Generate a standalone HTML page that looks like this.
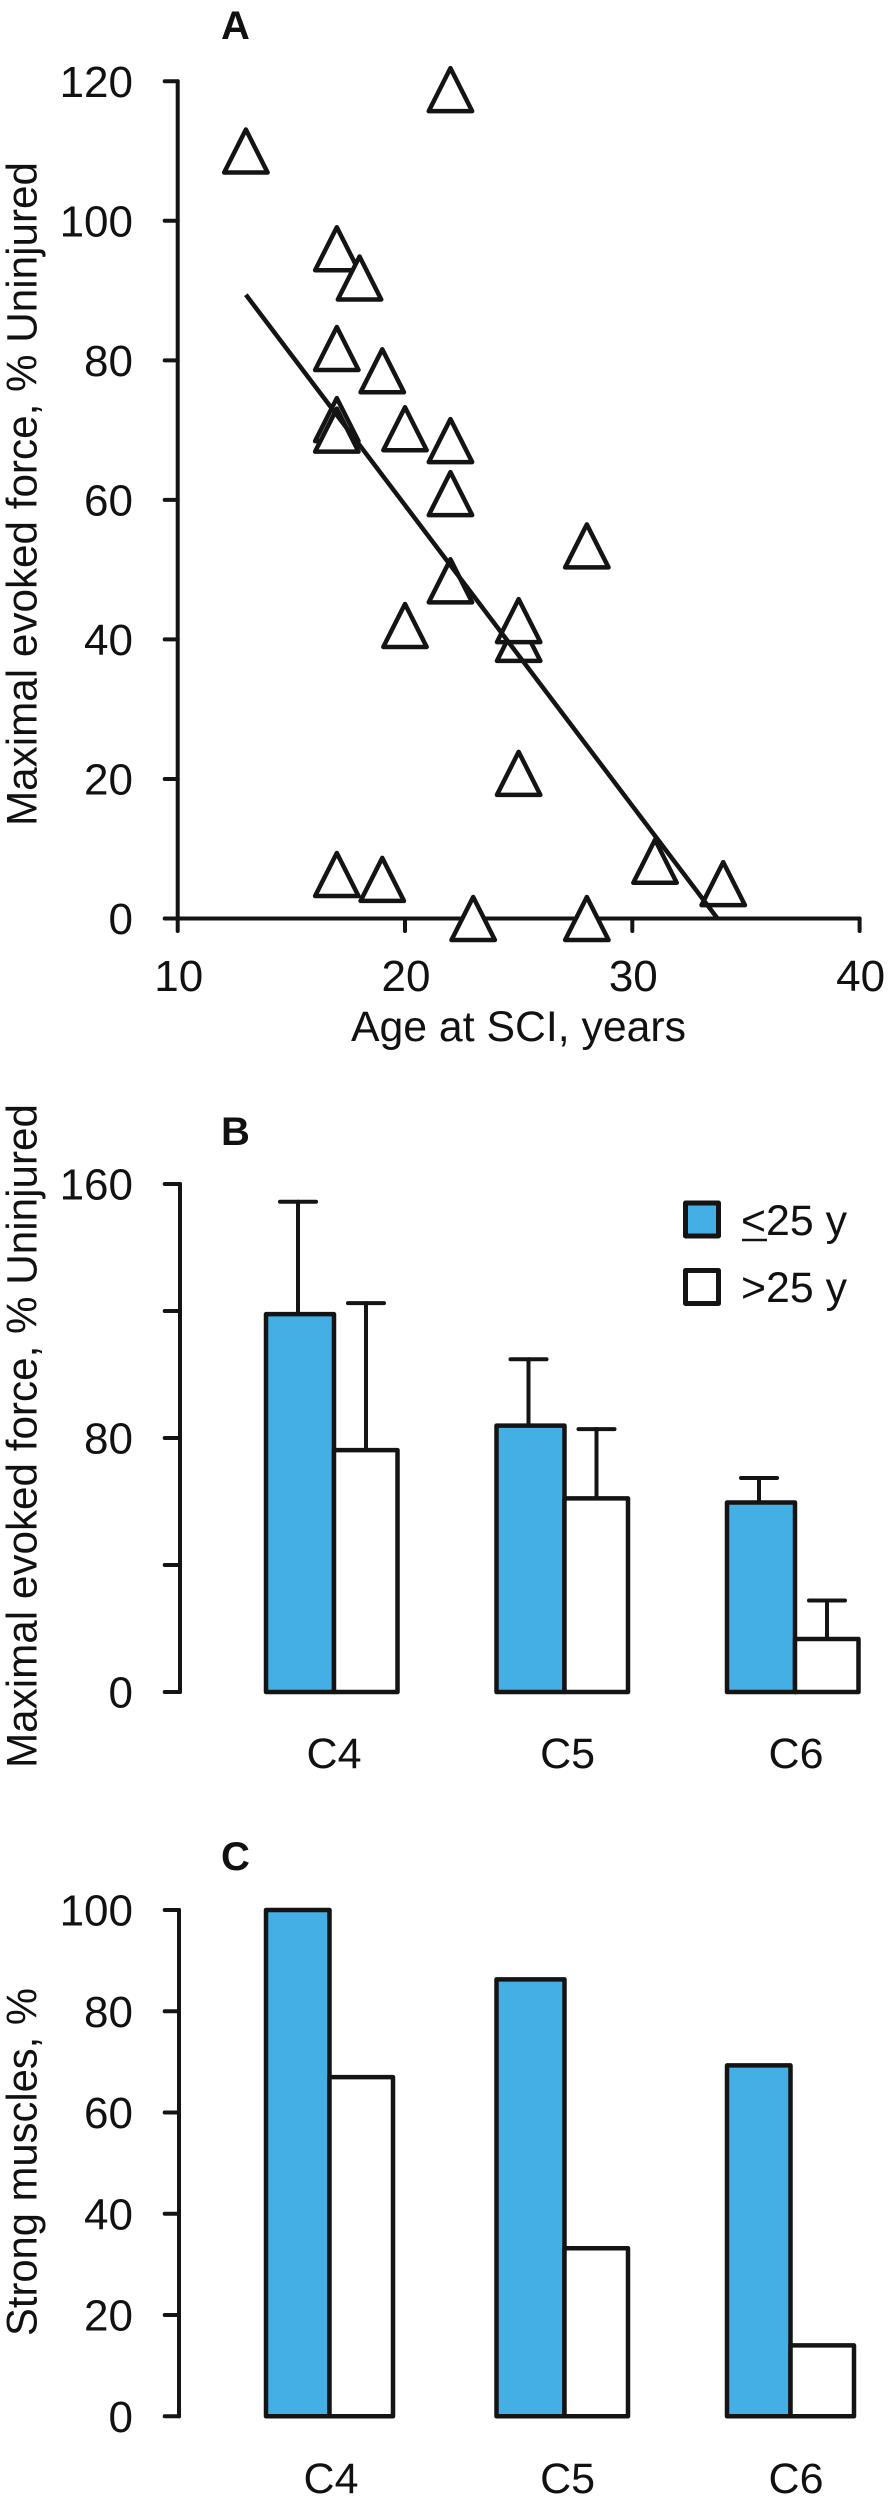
<!DOCTYPE html>
<html lang="en">
<head>
<meta charset="utf-8">
<title>Maximal evoked force and strong muscles by age at SCI</title>
<style>
html,body{margin:0;padding:0;background:#fff;width:888px;height:2500px;overflow:hidden}
svg{display:block}
text{font-family:"Liberation Sans",Arial,sans-serif;fill:#111}
</style>
</head>
<body>
<svg id="fig" xmlns="http://www.w3.org/2000/svg" width="888" height="2500" viewBox="0 0 888 2500"></svg>
<script>
// ---- Panel A data ----
const scatterAge = [13,22,17,18,17,19,17,17,20,22,22,28,22,20,25,25,25,17,19,31,34,23,28];
const scatterForce = [110,118.8,96,91.8,81.7,78.5,71.5,70,70.2,68.5,60.9,53.4,48.4,42,40,42.7,20.8,6.3,5.6,8.2,5,0,0];
const fitAge = [13,33.75];
const fitForce = [89.4,0];
const xTicksA = [10,20,30,40];
const yTicksA = [0,20,40,60,80,100,120];

// ---- Panel B data ----
const categories = ["C4","C5","C6"];
const forceYoung = [119,83.9,59.7];
const forceOld = [76.2,61,16.7];
const errYoung = [154.4,104.8,67.4];
const errOld = [122.5,82.8,28.8];
const yTicksB = [0,40,80,120,160];
const yLabelsB = ["0","","80","","160"];

// ---- Panel C data ----
const strongYoung = [100,86.3,69.3];
const strongOld = [67,33.2,14];
const yTicksC = [0,20,40,60,80,100];

const BLUE = "#44afe4", INK = "#141414";
const svg = document.getElementById("fig");
function make(tag, attrs, txt, parent){
  const el = document.createElementNS("http://www.w3.org/2000/svg", tag);
  for (const k in attrs) el.setAttribute(k, attrs[k]);
  if (txt !== undefined) el.textContent = txt;
  (parent || svg).appendChild(el);
  return el;
}
function line(x1,y1,x2,y2,w){
  return make("line",{x1,y1,x2,y2,stroke:INK,"stroke-width":w||4,"stroke-linecap":"round"});
}
const xA = v => 177.7 + (v-10)*22.73;
const yA = v => 918.5 - v*6.977;
const yB = v => 1692 - v*3.175;
const yC = v => 2416.3 - v*5.063;

// Panel letters and axis titles
const letterA = make("text",{x:221,y:39,"font-size":40,"font-weight":"bold"},"A");


const letterB = make("text",{x:221,y:1145,"font-size":40,"font-weight":"bold"},"B");


const letterC = make("text",{x:221,y:1870,"font-size":40,"font-weight":"bold"},"C");



const titleA = make("text",{x:0,y:0,"font-size":43,"text-anchor":"middle",transform:"translate(36.5,494) rotate(-90)",textLength:664,lengthAdjust:"spacingAndGlyphs"},"Maximal evoked force, % Uninjured");


const titleXA = make("text",{x:518.5,y:1041,"font-size":43,"text-anchor":"middle",textLength:335,lengthAdjust:"spacingAndGlyphs"},"Age at SCI, years");


const titleB = make("text",{x:0,y:0,"font-size":43,"text-anchor":"middle",transform:"translate(36.5,1436) rotate(-90)",textLength:664,lengthAdjust:"spacingAndGlyphs"},"Maximal evoked force, % Uninjured");


const titleC = make("text",{x:0,y:0,"font-size":43,"text-anchor":"middle",transform:"translate(36.5,2162) rotate(-90)",textLength:348,lengthAdjust:"spacingAndGlyphs"},"Strong muscles, %");



// Panel A axes
const axisYA = line(xA(10),yA(120),xA(10),yA(0));


const axisXA = line(xA(10),yA(0),xA(40),yA(0));


yTicksA.forEach(t=>{
  const tick = line(xA(10)-13,yA(t),xA(10),yA(t));
  
  
  const lab = make("text",{x:133,y:yA(t)+15.5,"font-size":44,"text-anchor":"end"},String(t));
  
  
});
xTicksA.forEach(t=>{
  const tick = line(xA(t),yA(0),xA(t),yA(0)+12.5);
  
  
  const lab = make("text",{x:xA(t)+1,y:991,"font-size":44,"text-anchor":"middle"},String(t));
  
  
});

// Panel A scatter points
scatterAge.forEach((a,i)=>{
  const cx = xA(a), cy = yA(scatterForce[i]);
  const tri = make("path",{d:`M${cx} ${cy-21.5}L${cx+21.7} ${cy+21.5}L${cx-21.7} ${cy+21.5}Z`,fill:"#fff",stroke:INK,"stroke-width":4.5,"stroke-linejoin":"round"});
  
  
});
const fit = make("line",{x1:xA(fitAge[0]),y1:yA(fitForce[0]),x2:xA(fitAge[1]),y2:yA(fitForce[1]),stroke:INK,"stroke-width":4.5});



// Bar geometry: band start plus per-panel widths
const bandLeft = i => 266 + 230.5*i;
function bar(x,w,top,base,fill){
  return make("rect",{x,y:top,width:w,height:base-top,fill,stroke:INK,"stroke-width":4.5,"stroke-linejoin":"round"});
}
const catXB = i => [334,567.6,796][i];
const catXC = i => [331,567.6,796][i];

// Panel B axis
const axisYB = line(180,yB(160),180,yB(0));


yTicksB.forEach((t,i)=>{
  const tick = line(164.7,yB(t),180,yB(t));
  
  
  if (yLabelsB[i]) {
    const lab = make("text",{x:133,y:yB(t)+15.5,"font-size":44,"text-anchor":"end"},yLabelsB[i]);
    
    
  }
});
// Panel B bars + error bars
categories.forEach((c,i)=>{
  const l = bandLeft(i), w1 = 68, w2 = 63.5;
  const ex1 = l + 32, ex2 = l + w1 + 32;
  const e1 = line(ex1,yB(errYoung[i]),ex1,yB(forceYoung[i]));
  
  
  const c1 = line(ex1-18,yB(errYoung[i]),ex1+18,yB(errYoung[i]));
  
  
  const e2 = line(ex2,yB(errOld[i]),ex2,yB(forceOld[i]));
  
  
  const c2 = line(ex2-18,yB(errOld[i]),ex2+18,yB(errOld[i]));
  
  
  const b1 = bar(l,w1,yB(forceYoung[i]),yB(0),BLUE);
  
  
  const b2 = bar(l+w1,w2,yB(forceOld[i]),yB(0),"#fff");
  
  
  const lab = make("text",{x:catXB(i),y:1768,"font-size":43,"text-anchor":"middle"},c);
  
  
});

// Legend
const swY = make("rect",{x:685.5,y:1203,width:33,height:33,fill:BLUE,stroke:INK,"stroke-width":5,"stroke-linejoin":"round"});


const swO = make("rect",{x:685.5,y:1270.5,width:33,height:33,fill:"#fff",stroke:INK,"stroke-width":5,"stroke-linejoin":"round"});


const legY = make("text",{x:741,y:1235,"font-size":43,textLength:106,lengthAdjust:"spacingAndGlyphs"},"<25 y");


const legU = line(742,1240,767,1240,2.5);
legU.setAttribute("stroke-linecap","butt");


const legO = make("text",{x:741,y:1302,"font-size":43,textLength:106,lengthAdjust:"spacingAndGlyphs"},">25 y");



// Panel C axis
const axisYC = line(179,yC(100),179,yC(0));


yTicksC.forEach(t=>{
  const tick = line(164.7,yC(t),179,yC(t));
  
  
  const lab = make("text",{x:133,y:yC(t)+15.5,"font-size":44,"text-anchor":"end"},String(t));
  
  
});
// Panel C bars
categories.forEach((c,i)=>{
  const l = bandLeft(i), w1 = i===1 ? 68 : 63.5, w2 = 63.5;
  const b1 = bar(l,w1,yC(strongYoung[i]),yC(0),BLUE);
  
  
  const b2 = bar(l+w1,w2,yC(strongOld[i]),yC(0),"#fff");
  
  
  const lab = make("text",{x:catXC(i),y:2493,"font-size":43,"text-anchor":"middle"},c);
  
  
});
</script>
</body>
</html>
